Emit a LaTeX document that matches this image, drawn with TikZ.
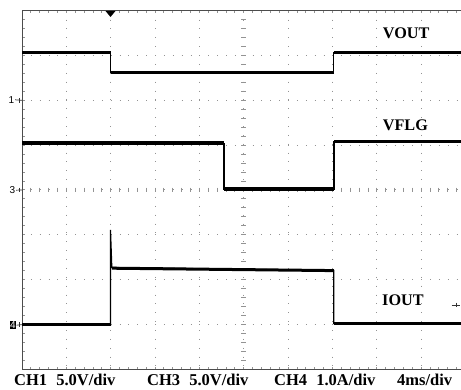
\documentclass[tikz,border=0pt]{standalone}
\usepackage{fontspec}
\setmainfont{Liberation Serif}
\newfontfamily\markfont{Liberation Sans}

\begin{document}
\begin{tikzpicture}[x=1pt, y=-1pt,
  grid/.style = {gray!85, line width=0.85pt},
  frame/.style = {black!70, line width=0.9pt},
  trace/.style = {black, line width=1.2pt},
  level/.style = {black, line width=3pt},
  lbl/.style = {font=\bfseries\fontsize{16.2}{16}\selectfont, inner sep=0pt, anchor=west},
  scl/.style = {font=\bfseries\fontsize{16.5}{16}\selectfont, inner sep=0pt, anchor=base west},
  chmark/.style = {font=\markfont\fontsize{10}{10}\selectfont, inner sep=0.6pt}]
\useasboundingbox (0,0) rectangle (461,390);
\clip (0,0) rectangle (461,390);
% dotted grid
\foreach \i in {1,...,9}
  \draw[grid, dash pattern=on 0.9pt off 7.97pt] (22+\i*44.35,10.7) -- (22+\i*44.35,369.1);
\foreach \j in {1,...,7}
  \draw[grid, dash pattern=on 0.9pt off 7.97pt] (22,10.7+\j*44.8) -- (470,10.7+\j*44.8);
% centre axes with minor ticks
\foreach \j in {0,...,40}
  \draw[grid] (241.4,10.7+\j*8.96) -- (246.1,10.7+\j*8.96);
\foreach \i in {0,...,50}
  \draw[grid] (22+\i*8.87,187.6) -- (22+\i*8.87,192.2);
% frame and its ticks
\foreach \i in {0,...,50} {
  \draw[grid] (22+\i*8.87,10.7) -- (22+\i*8.87,13.2);
  \draw[grid] (22+\i*8.87,369.1) -- (22+\i*8.87,366.6);
}
\foreach \j in {0,...,40}
  \draw[grid] (22,10.7+\j*8.96) -- (24.5,10.7+\j*8.96);
\draw[frame] (470,10.7) -- (22,10.7) -- (22,369.1) -- (470,369.1);
% trigger position
\fill[black] (105.5,11) -- (115.5,11) -- (110.5,17) -- cycle;

% VOUT
\draw[trace] (22,52.7) -- (110.5,52.7) -- (110.5,72.3) -- (333.8,72.3) -- (333.8,52.7) -- (470,52.7);
\draw[level] (22,52.7) -- (110.5,52.7);
\draw[level] (110.5,72.3) -- (333.8,72.3);
\draw[level] (333.8,52.7) -- (470,52.7);
% VFLG
\draw[trace] (22,143.2) -- (224,143.2) -- (224,189.2) -- (334,189.2) -- (334,141.6) -- (470,141.6);
\draw[level, line width=3.4pt] (22,143.2) -- (224,143.2);
\draw[level, line width=3.4pt] (224,189.2) -- (334,189.2);
\draw[level, line width=3.4pt] (334,141.6) -- (470,141.6);
% IOUT
\draw[trace] (22,325) -- (110.5,325) -- (110.5,230) -- (111.8,267.5) -- (333.8,270.5) -- (333.8,323.6) -- (470,323.6);
\draw[level] (22,325) -- (110.5,325);
\draw[level] (112,268.2) -- (333.8,270.6);
\draw[level] (333.8,323.6) -- (470,323.6);

% trace labels
\node[lbl] (vout) at (382.7,33.5) {VOUT};
\node[lbl] (vflg) at (382.7,125.5) {VFLG};
\node[lbl] (iout) at (382,300.7) {IOUT};

% channel markers
\node[chmark] (m1) at (11.5,99.8) {1};
\node[chmark] (m3) at (12.5,190.2) {3};
\node[chmark, fill=black, text=white] (m4) at (13,325.2) {4};
\coordinate (e1) at (22,100.3);
\coordinate (e3) at (22,189.9);
\coordinate (e4) at (22,324.6);
\draw[black!80, line width=0.7pt] (m1.east) -- (e1);
\draw[black!80, line width=0.7pt] (m3.east) -- (e3);
\draw[black!80, line width=0.7pt] (m4.east) -- (e4);
\foreach \y in {100.3,189.9,324.6}
  \draw[black!80, line width=0.7pt] (19.3,\y-2.3) -- (19.3,\y+2.3);
% trigger level
\coordinate (tl) at (451.5,305);
\draw[black!80, line width=0.7pt] (tl) -- (459.5,305);
\draw[black!80, line width=0.7pt] (456.5,302.6) -- (456.5,307.4);

% scale readout
\node[scl] (ch1) at (14,385.5) {CH1\hspace{0.55em}5.0V/div};
\node[scl] (ch3) at (147,385.5) {CH3\hspace{0.55em}5.0V/div};
\node[scl] (ch4) at (274,385.5) {CH4\hspace{0.55em}1.0A/div};
\node[scl] (tb) at (397,385.5) {4ms/div};
\end{tikzpicture}
\end{document}
